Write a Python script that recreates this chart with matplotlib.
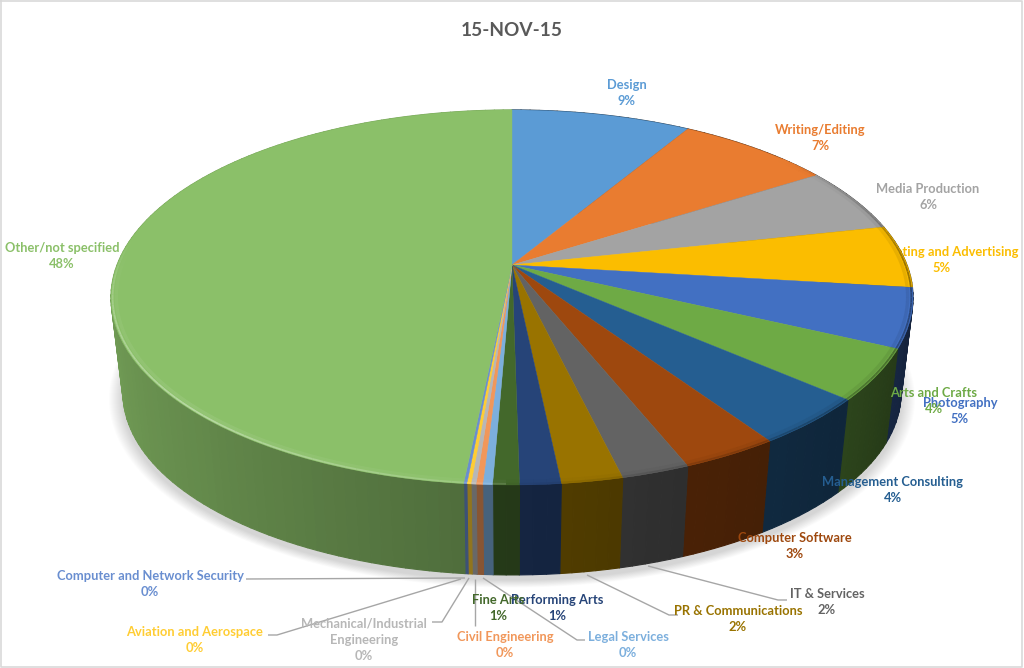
import numpy as np
import matplotlib
matplotlib.use("Agg")
import matplotlib.pyplot as plt
from matplotlib.collections import LineCollection, PolyCollection
from matplotlib.colors import to_rgb
from matplotlib.transforms import Transform

plt.rcParams["font.family"] = ["Lato", "DejaVu Sans"]

categories = [
    "Design", "Writing/Editing", "Media Production", "Marketing and Advertising",
    "Photography", "Arts and Crafts", "Management Consulting", "Computer Software",
    "IT & Services", "PR & Communications", "Performing Arts", "Fine Arts",
    "Legal Services", "Civil Engineering", "Mechanical/Industrial\nEngineering",
    "Aviation and Aerospace", "Computer and Network Security", "Other/not specified",
]
values = [8.55, 7.4, 5.6, 5.4, 5.1, 4.4, 4.15, 3.35, 2.35, 2.1, 1.4, 0.9,
          0.33, 0.22, 0.17, 0.14, 0.11, 48.43]
colors = [
    "#5B9BD5", "#E97C30", "#A3A3A3", "#FBBD00", "#4270C2", "#6EAA45",
    "#255E91", "#9E480E", "#636363", "#997300", "#264478", "#43682B",
    "#7CAFDD", "#F1975A", "#B7B7B7", "#FFCD33", "#698ED0", "#8BC069",
]

# label centres in pixels, same order as categories
label_pos = [
    (627, 93), (820, 138), (928, 197), (942, 260), (960, 411), (934, 401),
    (893, 490), (795, 546), (827, 602), (738, 619), (557, 608), (498, 608),
    (628, 645), (505, 645), (364, 640), (195, 640), (150, 584), (62, 256),
]

# leader lines in pixels
leaders = [
    [(246, 579), (465, 578)],
    [(268, 635), (277, 635), (461, 579)],
    [(432, 622), (442, 622), (469, 578)],
    [(475, 626), (475, 579)],
    [(585, 640), (577, 640), (483, 578)],
    [(678, 615), (669, 615), (587, 575)],
    [(787, 600), (778, 600), (648, 566)],
]

CX, CY = 512, 265
RX, RY, K = 395, 181.9, 0.173
BOTTOM_SCALE, BOTTOM_Y = 0.97, 361.6


def project(x, y, scale=1.0, y0=CY):
    d = 1 + K * y
    return CX + scale * RX * x / d, y0 - scale * RY * y / d


class Perspective(Transform):
    input_dims = output_dims = 2
    is_separable = False

    def transform_non_affine(self, values):
        values = np.asarray(values)
        px, py = project(values[:, 0], values[:, 1])
        return np.column_stack([px, py])


def wall_shade(clock):
    return np.interp(clock, [90, 115, 130, 160, 180, 225, 270, 360],
                     [0.30, 0.34, 0.40, 0.47, 0.55, 0.72, 0.85, 0.85])


def rim_colour(base, clock):
    base = np.array(to_rgb(base))
    light = np.interp(clock, [180, 225, 255, 278], [0.12, 0.38, 0.25, 0.0])
    dark = np.interp(clock, [50, 90, 130, 180], [1.0, 0.6, 0.7, 0.95])
    if clock >= 180:
        return tuple(base + (1 - base) * light)
    return tuple(base * dark)


fig = plt.figure(figsize=(10.24, 6.68), dpi=100)
ax = fig.add_axes([0, 0, 1, 1])

wedges, _ = ax.pie(values, colors=colors, startangle=90, counterclock=False)
persp = Perspective() + ax.transData
for wedge in wedges:
    wedge.set_transform(persp)
    wedge.set_edgecolor(wedge.get_facecolor())
    wedge.set_linewidth(0.3)
    wedge.set_zorder(5)

ax.set_aspect("auto")
ax.set_xlim(0, 1024)
ax.set_ylim(668, 0)
ax.axis("off")

# soft shadow under the pie
t = np.radians(np.linspace(0, 360, 181))
for grow in range(1, 15):
    sx, sy = project(np.cos(t), np.sin(t), BOTTOM_SCALE + grow * 0.0025, BOTTOM_Y + 5)
    ax.fill(sx, sy, color="black", alpha=0.012, lw=0, zorder=1)

# labels that sit behind the pie go first
pct = [f"{v:.0f}%" for v in values]
for name, p, colour, (lx, ly) in zip(categories, pct, colors, label_pos):
    z = 2 if name.startswith("Marketing") else 8
    ax.text(lx, ly, f"{name}\n{p}", color=colour, ha="center", va="center",
            fontsize=9.3, fontweight="bold", linespacing=1.42, zorder=z)

# side wall, cut into small strips so it can shade round the pie
quads, quad_cols, rim_segs, rim_cols, glow_segs = [], [], [], [], []
for wedge, colour in zip(wedges, colors):
    base = np.array(to_rgb(colour))
    steps = max(2, int((wedge.theta2 - wedge.theta1) / 1.5) + 1)
    edges = np.linspace(wedge.theta1, wedge.theta2, steps)
    for a0, a1 in zip(edges[:-1], edges[1:]):
        r0, r1 = np.radians(a0), np.radians(a1)
        c0, s0, c1, s1 = np.cos(r0), np.sin(r0), np.cos(r1), np.sin(r1)
        bot0 = project(c0, s0, BOTTOM_SCALE, BOTTOM_Y)
        bot1 = project(c1, s1, BOTTOM_SCALE, BOTTOM_Y)
        clock = (90 - (a0 + a1) / 2) % 360
        quads.append([project(c0, s0), project(c1, s1), bot1, bot0])
        quad_cols.append(tuple(base * wall_shade(clock)))
        if 50 < clock < 278:
            rim_segs.append([project(0.996 * c0, 0.996 * s0), project(0.996 * c1, 0.996 * s1)])
            glow_segs.append([project(0.987 * c0, 0.987 * s0), project(0.987 * c1, 0.987 * s1)])
            rim_cols.append(rim_colour(colour, clock))

ax.add_collection(PolyCollection(quads, facecolors=quad_cols, edgecolors=quad_cols,
                                 linewidths=0.8, zorder=3))
ax.add_collection(LineCollection(glow_segs, colors=rim_cols, linewidths=2.4, alpha=0.2,
                                 capstyle="butt", zorder=6))
ax.add_collection(LineCollection(rim_segs, colors=rim_cols, linewidths=1.3,
                                 capstyle="butt", zorder=6))

for line in leaders:
    xs, ys = zip(*line)
    ax.plot(xs, ys, color="#A6A6A6", lw=1.0, zorder=7, solid_capstyle="butt")

ax.text(512, 30, "15-NOV-15", color="#595959", ha="center", va="center",
        fontsize=13.7, fontweight="bold", zorder=8)

# chart frame
ax.plot([1, 1022, 1022, 1, 1], [0.5, 0.5, 666.5, 666.5, 0.5], color="#D9D9D9",
        lw=1.2, zorder=9)

fig.savefig("out.png", dpi=100)
